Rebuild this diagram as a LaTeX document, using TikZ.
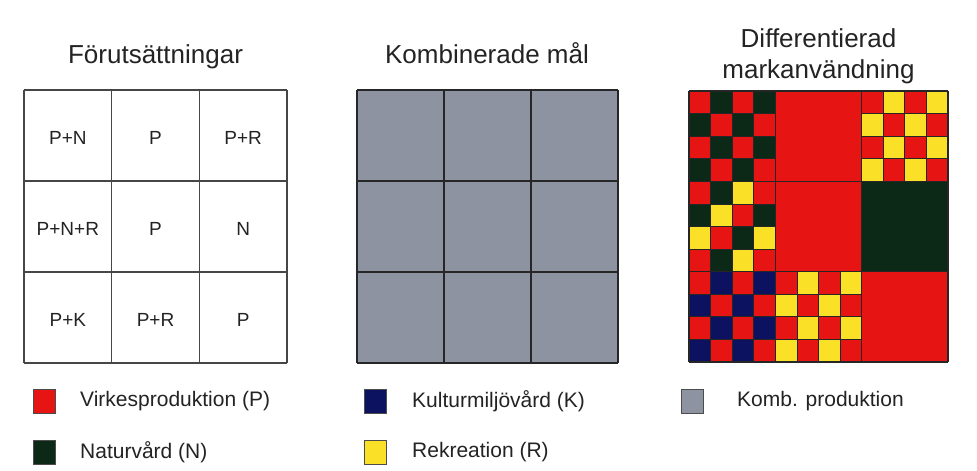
\documentclass[tikz,border=0pt]{standalone}
\usepackage{fontspec}
\setmainfont{Liberation Sans}
\definecolor{cR}{RGB}{230,20,18}
\definecolor{cG}{RGB}{12,40,22}
\definecolor{cB}{RGB}{12,18,95}
\definecolor{cY}{RGB}{250,225,40}
\definecolor{cK}{RGB}{141,147,160}
\definecolor{txt}{RGB}{35,35,35}
\definecolor{lgrid}{RGB}{70,70,70}
\newcommand{\patcell}[3]{%
  \foreach \cc [count=\k from 0] in {#3} {%
    \pgfmathtruncatemacro\ii{div(\k,4)}%
    \pgfmathtruncatemacro\jj{mod(\k,4)}%
    \filldraw[fill=\cc, subline] ({689+#1*86.33+\jj*21.583},{91+#2*90.33+\ii*22.583}) rectangle ++(21.583,22.583);
  }}
\begin{document}
\begin{tikzpicture}[x=1pt,y=-1pt,
  title/.style={font=\fontsize{26}{30}\selectfont, text=txt, inner sep=0pt},
  celltxt/.style={font=\fontsize{19}{22}\selectfont, text=txt, inner sep=0pt},
  legtxt/.style={font=\fontsize{21}{24}\selectfont, text=txt, inner sep=0pt, anchor=west},
  legsq/.style={draw=black!70, line width=0.9pt, minimum width=22pt, minimum height=24pt, inner sep=0pt},
  subline/.style={draw=black!85, line width=0.8pt},
  biggrid/.style={draw=black!85, line width=1.6pt}]
\useasboundingbox (0,0) rectangle (977,471);
\fill[white] (0,0) rectangle (977,471);

% titles
\node[title, anchor=base] (t1) at (155.5,63) {Förutsättningar};
\node[title, anchor=base] (t2) at (487,63) {Kombinerade mål};
\node[title, anchor=base] (t3a) at (818.5,47) {Differentierad};
\node[title, anchor=base] (t3b) at (818.5,78) {markanvändning};

% left grid
\foreach \i in {0,1,2,3} {
  \draw[lgrid, line width=1.5pt] ({24+\i*87.67},90) -- ({24+\i*87.67},363);
  \draw[lgrid, line width=1.5pt] (24,{90+\i*91}) -- (287,{90+\i*91});
}
\foreach \lab [count=\k from 0] in {P+N,P,P+R,P+N+R,P,N,P+K,P+R,P} {
  \pgfmathtruncatemacro\ii{div(\k,3)}
  \pgfmathtruncatemacro\jj{mod(\k,3)}
  \node[celltxt] (c\k) at ({24+(\jj+0.5)*87.67},{90+(\ii+0.5)*91+2}) {\lab};
}

% middle grid
\fill[cK] (357,90) rectangle (618,363);
\foreach \i in {0,1,2,3} {
  \draw[biggrid] ({357+\i*87},90) -- ({357+\i*87},363);
  \draw[biggrid] (357,{90+\i*91}) -- (618,{90+\i*91});
}

% right grid
\patcell{0}{0}{cR,cG,cR,cG, cG,cR,cG,cR, cR,cG,cR,cG, cG,cR,cG,cR}
\fill[cR] ({689+86.33},91) rectangle ++(86.33,90.33);
\patcell{2}{0}{cR,cY,cR,cY, cY,cR,cY,cR, cR,cY,cR,cY, cY,cR,cY,cR}
\patcell{0}{1}{cR,cG,cY,cR, cG,cY,cR,cG, cY,cR,cG,cY, cR,cG,cY,cR}
\fill[cR] ({689+86.33},{91+90.33}) rectangle ++(86.33,90.33);
\fill[cG] ({689+2*86.33},{91+90.33}) rectangle ++(86.33,90.33);
\patcell{0}{2}{cR,cB,cR,cB, cB,cR,cB,cR, cR,cB,cR,cB, cB,cR,cB,cR}
\patcell{1}{2}{cR,cY,cR,cY, cY,cR,cY,cR, cR,cY,cR,cY, cY,cR,cY,cR}
\fill[cR] ({689+2*86.33},{91+2*90.33}) rectangle ++(86.33,90.33);
\foreach \i in {0,1,2,3} {
  \draw[biggrid] ({689+\i*86.33},91) -- ({689+\i*86.33},362);
  \draw[biggrid] (689,{91+\i*90.33}) -- (948,{91+\i*90.33});
}

% legend
\node[legsq, fill=cR] (sqP) at (44,401) {};
\node[legtxt] (lP) at (80,401) {Virkesproduktion (P)};
\node[legsq, fill=cG] (sqN) at (44,452) {};
\node[legtxt] (lN) at (80,452) {Naturvård (N)};
\node[legsq, fill=cB] (sqK) at (375,401) {};
\node[legtxt] (lK) at (412,401) {Kulturmiljövård (K)};
\node[legsq, fill=cY] (sqR) at (375,452) {};
\node[legtxt] (lR) at (412,452) {Rekreation (R)};
\node[legsq, fill=cK] (sqC) at (692,401) {};
\node[legtxt] (lC) at (737,401) {Komb. produktion};
\end{tikzpicture}
\end{document}
